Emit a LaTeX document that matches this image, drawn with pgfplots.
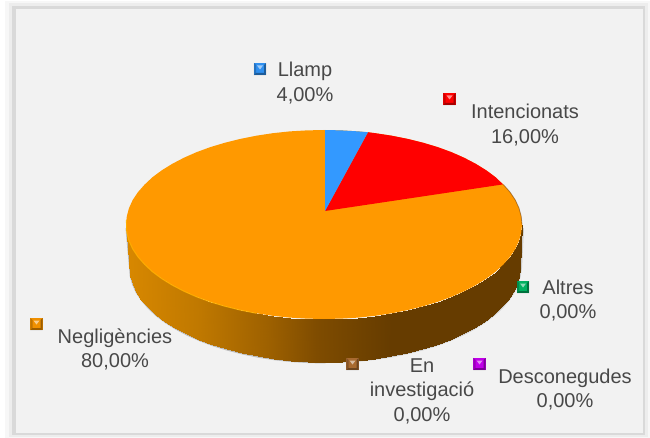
\documentclass[border=0pt]{standalone}
\usepackage{pgfplots}
\pgfplotsset{compat=1.18}
\usepackage{fontspec}
\setmainfont{Liberation Sans}
\definecolor{txt}{HTML}{484848}
\definecolor{pblue}{HTML}{3399FF}
\definecolor{pred}{HTML}{FF0000}
\definecolor{porange}{HTML}{FF9900}
\definecolor{pgreen}{HTML}{00B060}
\definecolor{pbrown}{HTML}{A86A30}
\definecolor{ppurple}{HTML}{C000E8}
\definecolor{morange}{HTML}{F09000}
\definecolor{mblue}{HTML}{2F8FEF}
\tikzset{lab/.style={align=center, text=txt, font=\fontsize{20}{24.5}\selectfont, inner sep=0pt}}
\pgfplotsset{colormap={sideband}{
 rgb255(0pt)=(216,136,0) rgb255(187pt)=(191,120,0) rgb255(356pt)=(158,97,0)
 rgb255(480pt)=(127,76,0) rgb255(600pt)=(111,66,0) rgb255(670pt)=(102,60,0) rgb255(1000pt)=(102,60,0)}}
\pgfdeclareplotmark{bevel}{%
 \pgfpathrectangle{\pgfpoint{-6.2pt}{-6.2pt}}{\pgfpoint{12.4pt}{12.4pt}}\pgfusepathqfill
 \begin{pgfscope}\pgfsetfillcolor{black}\pgfsetfillopacity{0.35}
  \pgfpathmoveto{\pgfpoint{-6.2pt}{-6.2pt}}\pgfpathlineto{\pgfpoint{6.2pt}{-6.2pt}}
  \pgfpathlineto{\pgfpoint{6.2pt}{6.2pt}}\pgfpathlineto{\pgfpoint{4pt}{4pt}}
  \pgfpathlineto{\pgfpoint{4pt}{-4pt}}\pgfpathlineto{\pgfpoint{-4pt}{-4pt}}\pgfpathclose\pgfusepathqfill
  \pgfsetfillopacity{0.2}
  \pgfpathmoveto{\pgfpoint{-6.2pt}{-6.2pt}}\pgfpathlineto{\pgfpoint{-4pt}{-4pt}}
  \pgfpathlineto{\pgfpoint{-4pt}{4pt}}\pgfpathlineto{\pgfpoint{-6.2pt}{6.2pt}}\pgfpathclose\pgfusepathqfill
 \end{pgfscope}
 \begin{pgfscope}\pgfsetfillcolor{white}\pgfsetfillopacity{0.55}
  \pgfpathmoveto{\pgfpoint{-3pt}{3.5pt}}\pgfpathlineto{\pgfpoint{3pt}{3.5pt}}
  \pgfpathlineto{\pgfpoint{0pt}{-0.5pt}}\pgfpathclose\pgfusepathqfill
 \end{pgfscope}}
\begin{document}
\begin{tikzpicture}
\begin{axis}[hide axis, scale only axis, width=650pt, height=438pt,
  xmin=0, xmax=650, ymin=0, ymax=438, y dir=reverse, clip=false]
% frame
\fill[white] (axis cs:0,0) rectangle (axis cs:650,438);
\fill[black!3] (axis cs:5,1) rectangle (axis cs:650,438);
\fill[black!7] (axis cs:9,3) rectangle (axis cs:648,437);
\fill[black!15] (axis cs:12,6) rectangle (axis cs:645,435);
\fill[black!5] (axis cs:16,9) rectangle (axis cs:643,433);
% shadow of the pie
\addplot[draw=black, opacity=0.22, line width=3pt, fill=none] coordinates {
(127,228)(130.5,267.5)(131.2,275.7)(133.5,283.9)(137.1,292)(142.3,299.8)(148.8,307.4)(156.6,314.8)(165.8,321.7)(176.1,328.2)(187.6,334.3)(200.2,339.9)(213.6,344.9)(228,349.3)(243.1,353.1)(258.8,356.3)(275,358.8)(291.6,360.6)(308.5,361.6)(325.5,362)};
\addplot[draw=black, opacity=0.15, line width=2pt, fill=none] coordinates {
(325,362)(342.5,361.6)(359.4,360.6)(376,358.8)(392.2,356.3)(407.9,353.1)(423,349.3)(437.4,344.9)(450.8,339.9)(463.4,334.3)(474.9,328.2)(485.2,321.7)(494.4,314.8)(502.2,307.4)(508.7,299.8)(513.9,292)(517.5,283.9)(519.8,275.7)(521,267.5)(523,228)};
% side of the pie
\addplot[surf, shader=interp, colormap name=sideband, mesh/rows=2, mesh/cols=37, point meta=x, point meta min=126, point meta max=522] coordinates {
(126,224.5)(126.8,232.7)(129,240.9)(132.7,249)(137.9,256.8)(144.6,264.4)(152.5,271.8)(161.8,278.7)(172.3,285.2)(184,291.3)(196.7,296.9)(210.4,301.9)(225,306.3)(240.3,310.1)(256.3,313.3)(272.8,315.8)(289.6,317.6)(306.7,318.6)(324,319)(341.3,318.6)(358.4,317.6)(375.2,315.8)(391.7,313.3)(407.7,310.1)(423,306.3)(437.6,301.9)(451.3,296.9)(464,291.3)(475.7,285.2)(486.2,278.7)(495.5,271.8)(503.4,264.4)(510.1,256.8)(515.3,249)(519,240.9)(521.2,232.7)(522,224.5)

(129.5,267.5)(130.2,275.7)(132.5,283.9)(136.1,292)(141.3,299.8)(147.8,307.4)(155.6,314.8)(164.8,321.7)(175.1,328.2)(186.6,334.3)(199.2,339.9)(212.6,344.9)(227,349.3)(242.1,353.1)(257.8,356.3)(274,358.8)(290.6,360.6)(307.5,361.6)(324.5,362)(341.5,361.6)(358.4,360.6)(375,358.8)(391.2,356.3)(406.9,353.1)(422,349.3)(436.4,344.9)(449.8,339.9)(462.4,334.3)(473.9,328.2)(484.2,321.7)(493.4,314.8)(501.2,307.4)(507.7,299.8)(512.9,292)(516.5,283.9)(518.8,275.7)(519.5,267.5)
};
% Negligencies 80
\addplot[fill=porange, draw=none] coordinates {
(522,224.5)(521.2,216.3)(519,208.1)(515.3,200)(510.1,192.2)(503.4,184.6)(495.5,177.2)(486.2,170.3)(475.7,163.8)(464,157.7)(451.3,152.1)(437.6,147.1)(423,142.7)(407.7,138.9)(391.7,135.7)(375.2,133.2)(358.4,131.4)(341.3,130.4)(324,130)(306.7,130.4)(289.6,131.4)(272.8,133.2)(256.3,135.7)(240.3,138.9)(225,142.7)(210.4,147.1)(196.7,152.1)(184,157.7)(172.3,163.8)(161.8,170.3)(152.5,177.2)(144.6,184.6)(137.9,192.2)(132.7,200)(129,208.1)(126.8,216.3)(126,224.5)(126.8,232.7)(129,240.9)(132.7,249)(137.9,256.8)(144.6,264.4)(152.5,271.8)(161.8,278.7)(172.3,285.2)(184,291.3)(196.7,296.9)(210.4,301.9)(225,306.3)(240.3,310.1)(256.3,313.3)(272.8,315.8)(289.6,317.6)(306.7,318.6)(324,319)(341.3,318.6)(358.4,317.6)(375.2,315.8)(391.7,313.3)(407.7,310.1)(423,306.3)(437.6,301.9)(451.3,296.9)(464,291.3)(475.7,285.2)(486.2,278.7)(495.5,271.8)(503.4,264.4)(510.1,256.8)(515.3,249)(519,240.9)(521.2,232.7)} -- cycle;
% rim highlights
\addplot[draw=orange!60!yellow, line width=1pt, opacity=0.8, fill=none] coordinates {
(126.4,220)(126.8,232.7)(129,240.9)(132.7,249)(137.9,256.8)(144.6,264.4)(152.5,271.8)(161.8,278.7)(172.3,285.2)(184,291.3)(196.7,296.9)(210.4,301.9)(225,306.3)(240.3,310.1)(256.3,313.3)};
\addplot[draw=black!60!orange, line width=0.8pt, opacity=0.5, fill=none] coordinates {
(503.4,184.6)(510.1,192.2)(515.3,200)(519,208.1)(521.2,216.3)(522,224.5)};
% Intencionats 16
\addplot[fill=pred, draw=none] coordinates {
(325,211)(368,132.2)(375.2,133.2)(391.7,135.7)(407.7,138.9)(423,142.7)(437.6,147.1)(451.3,152.1)(464,157.7)(475.7,163.8)(486.2,170.3)(495.5,177.2)(503,184.4)} -- cycle;
% Llamp 4
\addplot[fill=pblue, draw=none] coordinates {
(325,211)(325,130)(341.3,130.4)(358.4,131.4)(368,132.2)} -- cycle;
% legend keys
\addplot[only marks, mark=bevel, mark options={fill=mblue}] coordinates {(260,69)};
\addplot[only marks, mark=bevel, mark options={fill=pred}] coordinates {(449.5,99)};
\addplot[only marks, mark=bevel, mark options={fill=pgreen}] coordinates {(523,287)};
\addplot[only marks, mark=bevel, mark options={fill=ppurple}] coordinates {(479.5,364)};
\addplot[only marks, mark=bevel, mark options={fill=pbrown}] coordinates {(352.5,364)};
\addplot[only marks, mark=bevel, mark options={fill=morange}] coordinates {(36.5,324)};
% labels
\node[lab] at (axis cs:305,83) {Llamp\\4,00\%};
\node[lab] at (axis cs:525,125) {Intencionats\\16,00\%};
\node[lab] at (axis cs:568,300.5) {Altres\\0,00\%};
\node[lab] at (axis cs:565,389.5) {Desconegudes\\0,00\%};
\node[lab] at (axis cs:422,391) {En\\investigació\\0,00\%};
\node[lab] at (axis cs:115,349.5) {Negligències\\80,00\%};
\end{axis}
\end{tikzpicture}
\end{document}
